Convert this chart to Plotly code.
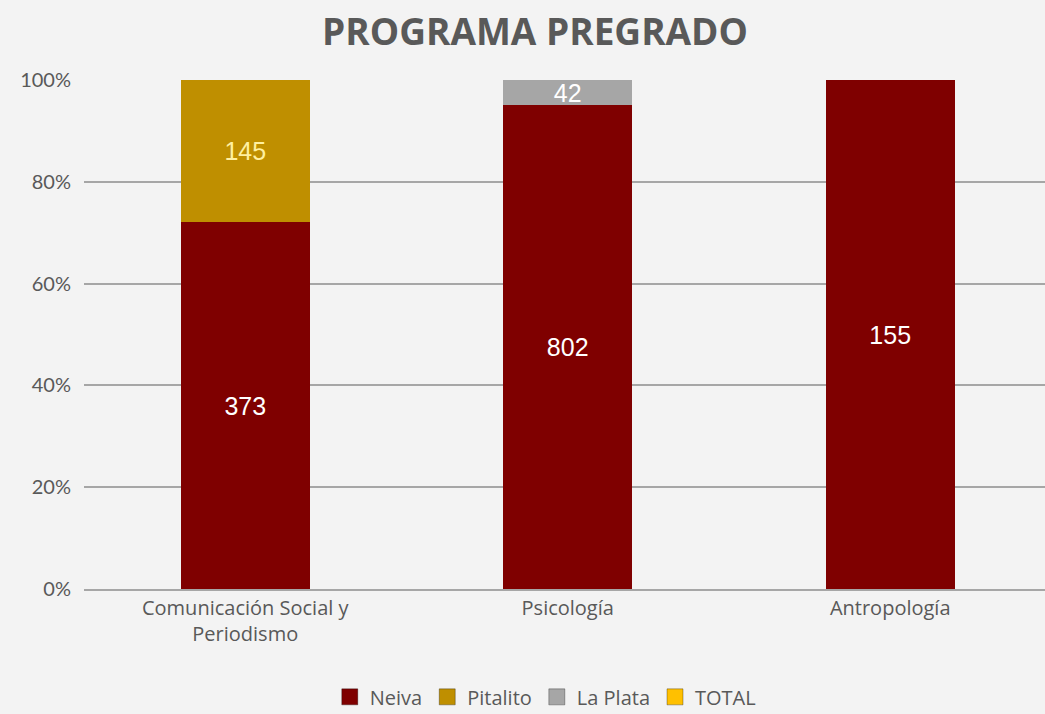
import plotly.graph_objects as go

programas = ["Comunicación Social y<br>Periodismo", "Psicología", "Antropología"]
neiva = [373, 802, 155]
pitalito = [145, 0, 0]
la_plata = [0, 42, 0]
total = [0, 0, 0]

series = [
    ("Neiva", neiva, "#7f0000", "white"),
    ("Pitalito", pitalito, "#bf8f00", "#fff0a0"),
    ("La Plata", la_plata, "#a6a6a6", "white"),
    ("TOTAL", total, "#ffc000", "white"),
]

fig = go.Figure()
for name, values, color, text_color in series:
    fig.add_trace(go.Bar(
        x=programas,
        y=values,
        name=name,
        legendgroup=name,
        showlegend=False,
        marker=dict(color=color, line=dict(width=0)),
        text=[str(v) if v else "" for v in values],
        textposition="inside",
        insidetextanchor="middle",
        textangle=0,
        constraintext="none",
        insidetextfont=dict(family="Arial", size=25, color=text_color),
    ))

# legend entries with bigger square swatches
for name, values, color, text_color in series:
    fig.add_trace(go.Scatter(
        x=[None], y=[None],
        mode="markers",
        name=name,
        legendgroup=name,
        marker=dict(symbol="square", size=18, color=color,
                    line=dict(width=1, color="rgba(0,0,0,0.3)")),
    ))

fig.update_layout(
    barmode="stack",
    barnorm="percent",
    bargap=0.6,
    width=1045,
    height=714,
    margin=dict(l=84, r=0, t=80, b=125),
    paper_bgcolor="#f3f3f3",
    plot_bgcolor="#f3f3f3",
    uniformtext=dict(minsize=25, mode="show"),
    title=dict(
        text="<b>PROGRAMA PREGRADO</b>",
        x=0.512, xanchor="center",
        y=0.955, yanchor="middle",
        font=dict(family="Open Sans", size=37, color="#595959"),
    ),
    font=dict(family="Open Sans", size=20, color="#595959"),
    legend=dict(
        orientation="h",
        traceorder="normal",
        x=0.48, xanchor="center",
        yref="container",
        y=0.024, yanchor="middle",
        font=dict(family="Open Sans", size=20, color="#595959"),
        itemwidth=30,
        bgcolor="rgba(0,0,0,0)",
    ),
    showlegend=True,
)

fig.update_yaxes(
    range=[0, 100],
    dtick=20,
    ticksuffix="%",
    showgrid=True,
    gridcolor="#a6a6a6",
    gridwidth=2,
    zeroline=False,
    showline=False,
    ticks="",
    ticklabelstandoff=12,
    tickfont=dict(family="Lato", size=20, color="#595959"),
)
fig.update_xaxes(
    range=[-0.5, 2.48],
    showline=True,
    linecolor="#a6a6a6",
    linewidth=2,
    ticks="",
    tickfont=dict(family="Open Sans", size=20, color="#595959"),
)

fig.write_html("out.html", config={"displayModeBar": False},
               post_script="document.body.style.margin='0';")
